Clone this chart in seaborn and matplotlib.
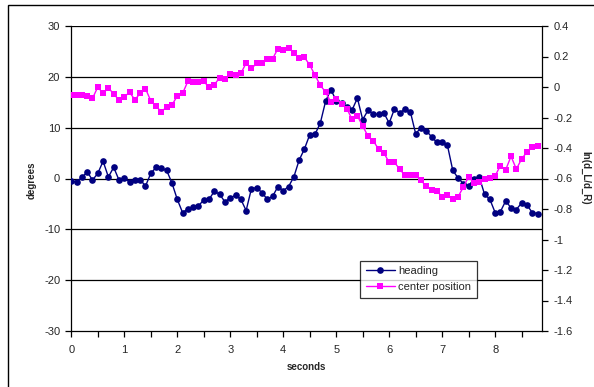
import numpy as np
import pandas as pd
import matplotlib
matplotlib.use("Agg")
import matplotlib.pyplot as plt
from matplotlib.lines import Line2D
from matplotlib.patches import Rectangle
import seaborn as sns

# Sample times (s), sampled every 0.1 s
seconds = np.round(np.arange(89) * 0.1, 1)

# Heading angle (degrees)
heading = [
    -0.5, -0.7, 0.2, 1.3, -0.3, 1.0, 3.4, 0.3, 2.2, -0.3,
    0.1, -0.7, -0.2, -0.2, -1.5, 1.0, 2.2, 2.0, 1.6, -0.9,
    -4.1, -6.7, -6.0, -5.6, -5.4, -4.2, -4.1, -2.5, -3.1, -4.6,
    -3.8, -3.3, -4.1, -6.3, -2.0, -1.8, -2.8, -4.1, -3.5, -1.6,
    -2.4, -1.6, 0.3, 3.6, 5.8, 8.6, 8.7, 10.9, 15.2, 17.5,
    15.3, 14.8, 14.0, 13.5, 15.8, 11.6, 13.4, 12.7, 12.6, 12.9,
    10.9, 13.7, 12.9, 13.7, 13.1, 8.8, 10.0, 9.4, 8.2, 7.1,
    7.1, 6.5, 1.6, 0.1, -1.0, -1.5, 0.0, 0.3, -3.1, -4.1,
    -6.7, -6.5, -4.4, -5.8, -6.1, -4.8, -5.2, -6.7, -6.9,
]

# Center position, ln(d_L/d_R)
center_position = [
    -0.053, -0.053, -0.053, -0.061, -0.075, 0.0, -0.042, -0.005, -0.046, -0.085,
    -0.064, -0.035, -0.083, -0.042, -0.011, -0.090, -0.127, -0.162, -0.131, -0.118,
    -0.059, -0.042, 0.037, 0.030, 0.030, 0.037, -0.002, 0.015, 0.061, 0.052,
    0.083, 0.076, 0.089, 0.157, 0.122, 0.155, 0.155, 0.181, 0.186, 0.251,
    0.240, 0.258, 0.223, 0.190, 0.195, 0.144, 0.078, 0.011, -0.033, -0.101,
    -0.081, -0.109, -0.142, -0.212, -0.190, -0.256, -0.322, -0.354, -0.407, -0.433,
    -0.494, -0.494, -0.540, -0.580, -0.575, -0.580, -0.612, -0.652, -0.673, -0.682,
    -0.720, -0.709, -0.733, -0.720, -0.656, -0.588, -0.628, -0.625, -0.603, -0.595,
    -0.582, -0.516, -0.542, -0.455, -0.538, -0.472, -0.426, -0.396, -0.387,
]

left_ticks = [30, 20, 10, 0, -10, -20, -30]
right_ticks = [0.4, 0.2, 0, -0.2, -0.4, -0.6, -0.8, -1, -1.2, -1.4, -1.6]
x_ticks = [0, 1, 2, 3, 4, 5, 6, 7, 8]

df = pd.DataFrame({"seconds": seconds, "heading": heading,
                   "center position": center_position})

sns.set_style("ticks")
plt.rcParams["font.family"] = ["Liberation Sans", "DejaVu Sans"]

NAVY = "#000080"
MAGENTA = "#FF00FF"
MS = 4.8

fig = plt.figure(figsize=(5.94, 3.87), dpi=100)
ax = fig.add_axes([71.3 / 594, 1 - 331 / 387, 471 / 594, 305 / 387])

sns.lineplot(data=df, x="seconds", y="heading", ax=ax, color=NAVY,
             marker="o", markersize=MS, markeredgewidth=0, linewidth=1.0,
             legend=False, zorder=3)
ax.set_xlim(0, 8.89)
ax.set_ylim(-30, 30)
ax.set_yticks(left_ticks)
ax.set_yticklabels([str(v) for v in left_ticks])
ax.set_xticks(x_ticks)
ax.set_xticks(np.arange(0.5, 8.9, 1.0), minor=True)
for v in left_ticks[:-1]:
    ax.axhline(v, color="black", linewidth=0.9, zorder=1)

ax2 = ax.twinx()
sns.lineplot(data=df, x="seconds", y="center position", ax=ax2, color=MAGENTA,
             marker="s", markersize=MS, markeredgewidth=0, linewidth=1.0,
             legend=False, zorder=3)
ax2.set_ylim(-1.6, 0.4)
ax2.set_yticks(right_ticks)
ax2.set_yticklabels([("%g" % v) for v in right_ticks])
ax2.set_xlim(0, 8.89)

for a in (ax, ax2):
    a.tick_params(axis="both", which="both", direction="out", length=4,
                  width=0.9, color="black", labelsize=8, pad=4)
    for s in a.spines.values():
        s.set_color("black")
        s.set_linewidth(0.9)
    a.spines["top"].set_visible(False)
    a.set_facecolor("none")
ax.spines["right"].set_visible(False)
ax2.spines["left"].set_visible(False)
ax2.spines["bottom"].set_visible(False)
ax.tick_params(axis="x", pad=6)

ax.set_xlabel("")
ax.set_ylabel("")
ax2.set_ylabel("")
fig.text(306.8 / 594, 1 - 367 / 387, "seconds", fontsize=7, fontweight="bold",
         ha="center", va="center")
fig.text(32 / 594, 1 - 180 / 387, "degrees", fontsize=7, fontweight="bold",
         rotation=90, ha="center", va="center")
fig.text(585 / 594, 1 - 178 / 387, "ln(d_L/d_R)", fontsize=7,
         fontweight="bold", rotation=270, ha="center", va="center")

handles = [
    Line2D([], [], color=NAVY, marker="o", markersize=MS, markeredgewidth=0,
           linewidth=1.0),
    Line2D([], [], color=MAGENTA, marker="s", markersize=MS,
           markeredgewidth=0, linewidth=1.0),
]
leg = ax2.legend(handles, ["heading", "center position"], loc="lower left",
                 bbox_to_anchor=(0.6136, 0.109), borderaxespad=0,
                 fontsize=8, frameon=True, fancybox=False, shadow=False,
                 handlelength=2.6, handletextpad=0.3, borderpad=0.5,
                 labelspacing=0.55)
leg.get_frame().set_edgecolor("black")
leg.get_frame().set_linewidth(0.9)

# Chart area border
fig.patches.append(Rectangle((8 / 594, -0.2), 1.5, 1.2 - 5 / 387, fill=False,
                             edgecolor="black", linewidth=1.0,
                             transform=fig.transFigure, figure=fig))

fig.savefig("out.png", dpi=100, facecolor="white")
